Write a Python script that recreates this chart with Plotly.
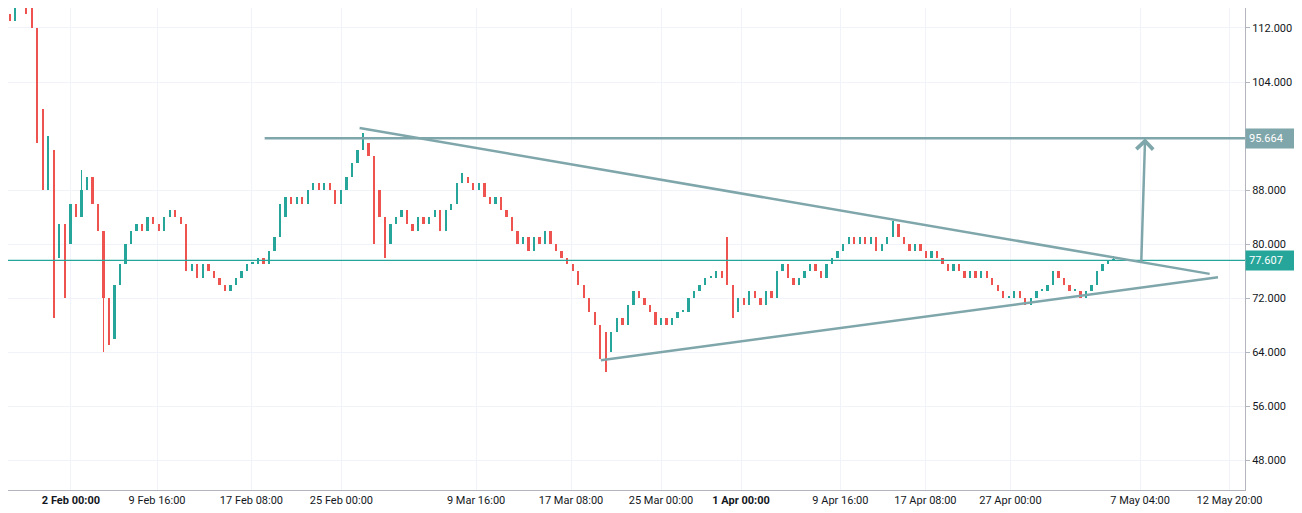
import plotly.graph_objects as go

# 12h candles, closes
closes = [114, 113, 115, 116, 114, 112, 100, 88, 94, 78, 83, 80, 86, 84, 88, 90, 86, 82, 72, 66,
          74, 77, 80, 82, 83, 82, 84, 83, 82, 84, 85, 84, 83, 76, 77, 75, 77, 76, 75, 74,
          73, 74, 75, 76, 77, 77, 78, 77, 79, 81, 84, 87, 86, 87, 86, 88, 89, 88, 89, 88,
          86, 88, 90, 92, 94, 95, 93, 88, 84, 80, 83, 84, 85, 83, 82, 84, 83, 84, 85, 82,
          85, 86, 89, 90, 89, 88, 89, 87, 86, 87, 85, 84, 82, 80, 81, 79, 81, 80, 82, 80,
          79, 78, 77, 76, 74, 72, 70, 68, 67, 64, 67, 69, 68, 71, 73, 72, 71, 70, 68, 69,
          68, 69, 70, 70, 72, 73, 74, 75, 75, 76, 75, 74, 70, 72, 71, 73, 72, 71, 73, 72,
          76, 77, 75, 74, 75, 76, 77, 76, 75, 77, 78, 79, 80, 81, 80, 81, 80, 81, 79, 80,
          81, 83, 81, 80, 79, 80, 79, 78, 79, 78, 77, 76, 77, 76, 75, 76, 75, 76, 75, 74,
          73, 72, 72, 73, 72, 71, 72, 73, 73, 74, 76, 75, 74, 73, 73, 72, 73, 74, 76, 77,
          77.5, 77.6]
# notable wicks: index -> extreme
wick_highs = {5: 117, 8: 96, 14: 91, 50: 86, 65: 96.5, 83: 90.5, 131: 81, 161: 83.5, 201: 78.2}
wick_lows = {6: 95, 9: 69, 11: 72, 18: 64, 19: 65, 67: 80, 69: 78, 109: 61, 108: 63, 132: 69}

x_ticks = [12.1, 27.7, 44.8, 61.1, 85.5, 102.7, 119, 133.5, 151.5, 166.9, 182.3, 205.8, 222]
x_labels = ["<b>2 Feb 00:00</b>", "9 Feb 16:00", "17 Feb 08:00", "25 Feb 00:00", "9 Mar 16:00",
            "17 Mar 08:00", "25 Mar 00:00", "<b>1 Apr 00:00</b>", "9 Apr 16:00", "17 Apr 08:00",
            "27 Apr 00:00", "7 May 04:00", "12 May 20:00"]
y_ticks = [48, 56, 64, 72, 80, 88, 104, 112]

target = 95.664
last = 77.607

idx = list(range(len(closes)))
opens = [closes[0]] + closes[:-1]
highs = [max(o, c, wick_highs.get(i, 0)) for i, (o, c) in enumerate(zip(opens, closes))]
lows = [min(o, c, wick_lows.get(i, 999)) for i, (o, c) in enumerate(zip(opens, closes))]

UP, DOWN, DRAW = "#26a69a", "#ef5350", "#7fa6aa"

fig = go.Figure()
for up, col in [(True, UP), (False, DOWN)]:
    sel = [i for i in idx if (closes[i] >= opens[i]) == up]
    fig.add_trace(go.Bar(x=sel, base=[lows[i] for i in sel],
                         y=[max(highs[i] - lows[i], 0.3) for i in sel],
                         width=0.12, marker=dict(color=col, line=dict(width=0)),
                         showlegend=False, hoverinfo="skip"))
    fig.add_trace(go.Bar(x=sel, base=[min(opens[i], closes[i]) for i in sel],
                         y=[max(abs(closes[i] - opens[i]), 0.3) for i in sel],
                         width=0.42, marker=dict(color=col, line=dict(width=0)),
                         showlegend=False, hoverinfo="skip"))

# drawings
fig.add_shape(type="line", x0=-5, x1=230, y0=last, y1=last, line=dict(color=UP, width=1.2))
fig.add_shape(type="line", x0=47.2, x1=230, y0=target, y1=target, line=dict(color=DRAW, width=2.5))
fig.add_shape(type="line", x0=64.4, y0=97.2, x1=218.4, y1=75.6, line=dict(color=DRAW, width=2.5))
fig.add_shape(type="line", x0=108.1, y0=62.8, x1=219.9, y1=75.1, line=dict(color=DRAW, width=2.5))
fig.add_annotation(x=206.7, y=target, ax=206, ay=77.2, xref="x", yref="y", axref="x", ayref="y",
                   showarrow=True, arrowhead=4, arrowsize=1.3, arrowwidth=2.5, arrowcolor=DRAW, text="")

for val, col in [(target, DRAW), (last, UP)]:
    fig.add_annotation(x=1, xref="paper", y=val, yref="y", text=f"{val:.3f}", showarrow=False,
                       xanchor="left", bgcolor=col, font=dict(color="white", size=11),
                       borderpad=3, width=48, align="left")

fig.update_layout(
    width=1294, height=505, plot_bgcolor="white", paper_bgcolor="white",
    margin=dict(l=0, r=57, t=0, b=23, autoexpand=False), barmode="overlay", bargap=0,
    font=dict(family="Roboto, Arial", size=11, color="#131722"),
    xaxis=dict(range=[0.7, 224.8], tickvals=x_ticks, ticktext=x_labels, showgrid=True,
               gridcolor="#f0f3fa", zeroline=False, automargin=False,
               showline=True, linecolor="#b2b5be", ticks="", tickfont=dict(size=11)),
    yaxis=dict(range=[43.6, 114.96], side="right", tickvals=y_ticks,
               ticktext=[f"{v:.3f}" for v in y_ticks], showgrid=True, gridcolor="#f0f3fa",
               zeroline=False, showline=True, linecolor="#b2b5be", ticks="outside",
               ticklen=4, tickcolor="#b2b5be", tickfont=dict(size=11), automargin=False),
)
fig.write_html("out.html")
